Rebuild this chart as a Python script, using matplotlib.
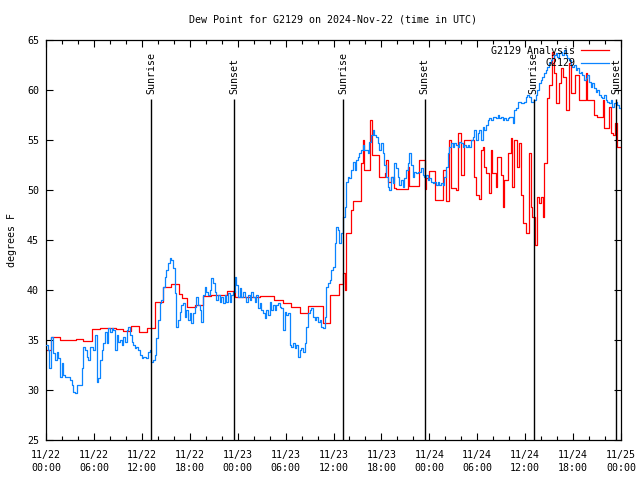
import matplotlib
matplotlib.use('Agg')
import matplotlib.pyplot as plt

# ---- data (hours since 2024-11-22 00:00 UTC) ----
obs_hours = [0.04,0.29,0.42,0.58,0.83,1.13,1.33,1.54,1.75,1.96,2.17,2.38,2.79,3.0,3.21,3.42,3.63,3.83,4.25,4.46,4.67,4.88,5.08,5.29,5.5,5.71,5.92,6.13,6.33,6.54,6.75,6.96,7.17,7.38,7.58,7.79,8.0,8.21,8.42,8.63,8.83,9.04,9.25,9.46,9.67,9.88,10.08,10.29,10.5,10.71,10.92,11.13,11.33,11.54,11.75,11.96,12.17,12.58,12.79,13.0,13.21,13.42,13.63,13.83,14.04,14.25,14.46,14.67,14.88,15.08,15.29,15.5,15.71,15.92,16.13,16.33,16.54,16.75,16.96,17.17,17.38,17.58,17.79,18.0,18.21,18.42,18.63,18.83,19.04,
             19.25,19.46,19.67,19.88,20.08,20.29,20.5,20.71,20.92,21.13,21.33,21.54,21.75,21.96,22.17,22.38,22.58,22.79,23.0,23.21,23.42,23.63,23.83,24.04,24.25,24.46,24.67,24.88,25.08,25.29,25.5,25.71,25.92,26.13,26.33,26.54,26.75,26.96,27.17,27.38,27.58,27.79,28.0,28.21,28.42,28.63,28.83,29.04,29.25,29.46,29.67,29.88,30.08,30.29,30.5,30.71,30.92,31.13,31.33,31.54,31.75,31.96,32.17,32.38,32.58,32.79,33.0,33.21,33.42,33.63,33.83,34.04,34.25,34.46,34.67,34.88,35.08,35.29,
             35.5,35.71,35.92,36.13,36.33,36.54,36.75,36.96,37.17,37.38,37.58,37.79,38.0,38.21,38.42,38.63,38.83,39.04,39.25,39.46,39.67,39.88,40.08,40.29,40.5,40.71,40.92,41.13,41.33,41.54,41.75,41.96,42.17,42.38,42.58,42.79,43.0,43.21,43.42,43.63,43.83,44.04,44.25,44.46,44.67,44.88,45.08,45.29,45.5,45.71,45.92,46.13,46.33,46.54,46.75,46.96,47.17,47.38,47.58,47.79,48.0,48.21,48.42,48.63,48.83,49.04,49.25,49.46,49.67,49.88,50.08,50.29,50.5,50.71,50.92,51.13,51.33,51.54,51.75,51.96,52.17,52.38,52.58,52.79,
             53.0,53.21,53.42,53.63,53.83,54.04,54.25,54.46,54.67,54.88,55.08,55.29,55.5,55.71,55.92,56.13,56.33,56.54,56.75,56.96,57.17,57.38,57.58,57.79,58.0,58.21,58.42,58.63,58.83,59.04,59.25,59.46,59.67,59.88,60.08,60.29,60.5,60.71,60.92,61.13,61.33,61.54,61.75,61.96,62.17,62.38,62.58,62.79,63.0,63.21,63.42,63.63,63.83,64.04,64.25,64.46,64.67,64.88,65.08,65.29,65.5,65.71,65.92,66.13,66.33,66.54,66.75,66.96,67.17,67.38,67.58,67.79,68.0,68.21,68.42,68.63,68.83,69.04,69.25,69.46,69.67,69.88,70.08,70.29,70.5,70.71,70.92,71.13,71.33,71.54,71.75,71.96]
obs_values = [34.5,34.0,32.2,35.3,33.7,33.0,33.8,33.2,31.3,32.7,31.5,31.3,31.3,31.0,30.5,29.8,29.7,30.5,30.5,32.2,34.3,34.0,33.3,33.0,34.3,34.3,34.0,35.5,30.8,31.2,33.0,34.0,34.7,35.8,34.7,36.2,35.8,36.2,36.0,34.0,35.5,34.8,35.0,34.5,35.3,34.8,36.0,36.3,35.5,34.8,34.5,34.2,34.3,34.0,33.5,33.2,33.3,33.2,33.8,34.0,32.8,33.0,33.5,35.2,37.0,38.7,39.0,40.3,41.3,42.0,42.7,43.2,43.0,42.2,39.7,36.3,37.0,37.8,38.5,38.7,37.3,38.0,37.0,37.7,36.7,37.7,38.3,39.3,38.5,
              38.0,36.8,39.5,40.3,39.8,39.5,40.0,41.2,40.7,39.8,39.0,39.5,38.8,39.3,38.7,39.5,38.8,39.7,38.8,39.5,39.8,41.3,40.5,39.3,40.2,39.3,39.8,39.3,38.8,39.5,39.0,39.8,39.3,38.8,39.5,38.2,38.7,38.0,37.7,37.2,38.0,37.5,38.8,38.0,38.5,38.0,38.5,38.7,38.3,38.2,36.0,37.8,37.5,37.7,34.5,34.3,34.7,34.2,34.5,33.3,34.0,34.2,33.8,34.7,36.3,37.7,38.0,38.2,37.3,37.0,37.3,36.8,37.0,36.3,36.2,37.3,40.3,40.7,
              41.0,42.0,42.3,44.7,46.3,46.0,44.7,45.7,47.3,48.3,50.8,51.3,51.2,52.0,52.8,52.0,53.0,53.3,53.7,54.0,54.5,54.0,54.0,53.7,54.8,55.5,56.0,55.5,55.3,54.7,54.0,54.7,53.7,52.5,51.3,50.3,50.0,51.3,50.7,52.7,52.2,51.3,50.5,51.0,50.3,51.2,52.0,52.7,53.7,52.5,51.3,51.8,51.7,51.8,51.8,52.2,51.5,51.3,51.5,51.0,51.2,50.8,50.7,50.8,50.5,50.8,50.5,50.7,50.5,51.3,52.3,53.7,54.3,54.7,54.3,54.7,54.5,54.3,54.8,54.7,54.3,54.5,54.3,54.5,
              54.3,55.0,55.3,56.0,55.0,55.7,56.0,55.0,56.3,56.0,56.5,57.0,57.2,57.0,57.3,57.3,57.2,57.5,57.2,57.3,57.0,57.2,57.0,57.2,57.3,57.3,56.7,58.0,58.2,58.8,58.8,58.7,58.7,58.8,59.3,59.5,59.3,58.8,58.8,59.0,59.5,60.0,60.7,61.0,61.3,61.7,62.0,62.3,62.7,63.0,63.2,63.5,63.7,63.3,63.7,63.8,63.5,64.0,63.5,63.2,63.0,62.5,62.3,62.5,62.0,62.2,61.7,61.8,61.5,61.0,61.2,61.5,60.8,60.3,60.7,60.2,59.8,60.0,59.5,59.3,59.2,59.5,59.0,58.8,58.7,59.0,58.3,58.7,58.8,58.5,58.2,58.2]

ana_hours = [0,0.63,1.75,3.75,4.67,5.71,6.75,8.75,9.67,10.63,11.67,12.67,13.67,14.67,15.71,16.67,17.08,17.67,18.7,19.7,20.7,21.7,22.7,23.7,26.75,28.6,29.7,30.7,31.75,32.8,34.7,35.6,36.7,37.17,37.5,37.6,38.2,38.5,39.45,39.67,39.8,40.6,40.8,41.75,42.4,42.6,42.8,43.2,43.6,43.8,45.3,45.5,46.7,47.4,47.6,48.0,48.75,49.7,50.1,50.5,50.7,51.4,51.6,52.0,52.4,53.6,53.8,54.25,54.5,54.7,54.9,55.1,55.5,55.7,55.9,56.3,56.5,56.96,57.17,57.4,57.8,58.2,58.4,58.6,59.0,59.25,59.5,59.7,60.1,60.5,60.7,60.9,61.2,61.5,61.75,61.96,62.2,62.4,62.7,63.0,63.3,63.6,63.8,64.25,64.5,64.7,65.1,65.5,65.7,66.3,66.75,67.6,67.8,68.6,69.0,69.7,69.9,70.5,70.7,71.0,71.3,71.5,72.0]
ana_values = [34.0,35.3,35.0,35.1,34.9,36.1,36.2,36.1,35.9,36.4,35.8,36.2,38.8,40.3,40.6,39.6,39.2,38.3,38.5,39.4,39.5,39.5,39.9,39.3,39.4,39.0,38.7,38.3,37.7,38.4,36.7,39.5,40.6,41.7,40.0,45.7,48.0,48.9,52.7,55.0,52.0,57.0,53.5,51.3,51.7,53.0,50.8,51.3,50.2,50.1,52.3,50.4,53.0,50.1,51.2,51.9,49.0,52.0,48.9,55.0,50.2,50.0,55.7,51.5,55.0,51.3,49.5,49.1,54.0,54.3,52.3,51.7,49.7,54.0,51.7,50.3,53.3,51.5,48.3,51.0,53.7,55.2,50.3,55.0,52.3,54.7,49.5,46.7,45.7,53.7,48.3,47.3,44.5,49.3,48.7,49.3,47.3,52.7,59.2,60.5,63.8,61.7,58.7,60.7,62.2,61.3,58.0,62.7,59.7,61.5,59.0,61.7,59.0,57.5,57.3,59.0,56.2,58.3,55.7,55.5,56.7,54.3,54.3]

event_hours = [13.2, 23.6, 37.2, 47.4, 61.05, 71.42]
event_names = ['Sunrise', 'Sunset', 'Sunrise', 'Sunset', 'Sunrise', 'Sunset']

tick_hours = list(range(0, 73, 6))
tick_labels = ['11/22\n00:00', '11/22\n06:00', '11/22\n12:00', '11/22\n18:00',
               '11/23\n00:00', '11/23\n06:00', '11/23\n12:00', '11/23\n18:00',
               '11/24\n00:00', '11/24\n06:00', '11/24\n12:00', '11/24\n18:00',
               '11/25\n00:00']
y_ticks = [25, 30, 35, 40, 45, 50, 55, 60, 65]

FONT = 'DejaVu Sans Mono'
FS = 7.2
plt.rcParams['font.family'] = [FONT]
plt.rcParams['font.size'] = FS

fig = plt.figure(figsize=(6.4, 4.8), dpi=100)
ax = fig.add_axes([46/640, 40/480, 575/640, 400/480])

ax.plot(ana_hours, ana_values, drawstyle='steps-post', color='#ff0000', lw=0.9,
        label='G2129 Analysis', zorder=2)
ax.plot(obs_hours, obs_values, drawstyle='steps-post', color='#0a84ff', lw=0.9,
        label='G2129', zorder=3)

ax.vlines(event_hours, 25, 59.1, color='black', lw=1.0, zorder=4)
for h, name in zip(event_hours, event_names):
    ax.text(h, 59.6, name, rotation=90, ha='center', va='bottom', fontsize=FS)

ax.set_xlim(0, 72)
ax.set_ylim(25, 65)
ax.set_xticks(tick_hours)
ax.set_xticklabels(tick_labels, linespacing=1.35)
ax.set_xticks(range(0, 73, 2), minor=True)
ax.set_yticks(y_ticks)
ax.tick_params(which='both', direction='in', top=True, right=True, width=0.8)
ax.tick_params(which='major', length=5)
ax.tick_params(axis='x', which='major', pad=7.5)
ax.tick_params(axis='y', which='major', pad=5)
ax.tick_params(which='minor', length=3)
for s in ax.spines.values():
    s.set_linewidth(0.9)

ax.set_ylabel('degrees F')
ax.yaxis.set_label_coords((17 - 46) / 575, 0.5)
fig.text(333/640, 1 - 19/480, 'Dew Point for G2129 on 2024-Nov-22 (time in UTC)',
         ha='center', va='center', fontsize=FS)

ax.legend(loc='upper right', bbox_to_anchor=(1.0 - 7/575, 1.0 - 1/400), frameon=False,
          markerfirst=False, handlelength=2.8, handletextpad=0.6, borderaxespad=0.3,
          borderpad=0.2, labelspacing=0.25, fontsize=FS)

fig.savefig('out.png', dpi=100)
